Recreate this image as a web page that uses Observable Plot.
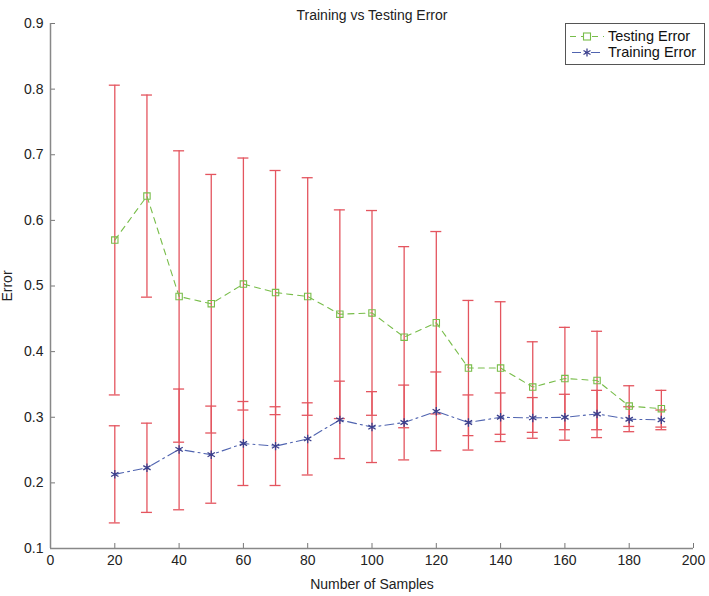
<!DOCTYPE html>
<html><head><meta charset="utf-8">
<script src="https://cdn.jsdelivr.net/npm/d3@7"></script>
<script src="https://cdn.jsdelivr.net/npm/@observablehq/plot@0.6"></script>
<style>
body{margin:0;background:#fff;}
#wrap{position:relative;width:709px;height:596px;font-family:"Liberation Sans",Arial,sans-serif;}
#legend{position:absolute;left:565px;top:23px;width:140px;height:42px;border:1px solid #555;background:#fff;box-sizing:border-box;font-size:14.5px;color:#111;padding-top:4px;}
#legend .row{display:flex;align-items:center;height:16px;line-height:16px;}
#legend svg{width:38px;height:15px;flex:none;margin-left:2px;margin-right:2px;}
</style></head><body><div id="wrap"></div>
<script>
const title = "Training vs Testing Error";
const samples = [20, 30, 40, 50, 60, 70, 80, 90, 100, 110, 120, 130, 140, 150, 160, 170, 180, 190];
const testingError  = [0.570, 0.637, 0.484, 0.473, 0.503, 0.490, 0.484, 0.457, 0.459, 0.422, 0.444, 0.375, 0.375, 0.346, 0.359, 0.356, 0.317, 0.313];
const testingSpread = [0.236, 0.154, 0.222, 0.197, 0.192, 0.186, 0.181, 0.159, 0.156, 0.138, 0.139, 0.103, 0.101, 0.069, 0.078, 0.075, 0.031, 0.028];
const trainingError  = [0.213, 0.223, 0.251, 0.243, 0.260, 0.256, 0.267, 0.296, 0.285, 0.292, 0.309, 0.292, 0.300, 0.299, 0.300, 0.305, 0.297, 0.296];
const trainingSpread = [0.074, 0.068, 0.092, 0.074, 0.064, 0.060, 0.055, 0.059, 0.054, 0.057, 0.060, 0.042, 0.037, 0.031, 0.035, 0.036, 0.019, 0.015];
const seriesNames = ["Testing Error", "Training Error"];
const xTicks = [0, 20, 40, 60, 80, 100, 120, 140, 160, 180, 200];
const yTicks = [0.1, 0.2, 0.3, 0.4, 0.5, 0.6, 0.7, 0.8, 0.9];
const xLabel = "Number of Samples";
const yLabel = "Error";

const red = "#e4555f", green = "#78bd4a", blue = "#5064b0", navy = "#3b3f8c";

const testRows = samples.map((x, i) => ({x, y: testingError[i], lo: testingError[i] - testingSpread[i], hi: testingError[i] + testingSpread[i]}));
const trainRows = samples.map((x, i) => ({x, y: trainingError[i], lo: trainingError[i] - trainingSpread[i], hi: trainingError[i] + trainingSpread[i]}));
const allRows = testRows.concat(trainRows);

const chart = Plot.plot({
  width: 709, height: 596,
  marginLeft: 50, marginRight: 16, marginTop: 23, marginBottom: 48,
  style: {fontFamily: "'Liberation Sans', Arial, sans-serif", fontSize: "14px", color: "#222", background: "#fff"},
  x: {domain: [0, 200]},
  y: {domain: [0.1, 0.9]},
  marks: [
    Plot.ruleX(allRows, {x: "x", y1: "lo", y2: "hi", stroke: red, strokeWidth: 1.3}),
    Plot.ruleY(allRows, {y: "lo", x1: "x", x2: "x", insetLeft: -5.5, insetRight: -5.5, stroke: red, strokeWidth: 1.3}),
    Plot.ruleY(allRows, {y: "hi", x1: "x", x2: "x", insetLeft: -5.5, insetRight: -5.5, stroke: red, strokeWidth: 1.3}),
    Plot.line(testRows, {x: "x", y: "y", stroke: green, strokeWidth: 1.1, strokeDasharray: "6,5"}),
    Plot.line(trainRows, {x: "x", y: "y", stroke: blue, strokeWidth: 1.1, strokeDasharray: "9,4,2,4"}),
    Plot.dot(testRows, {x: "x", y: "y", symbol: "square", r: 3.6, stroke: green, fill: "none", strokeWidth: 1.1}),
    Plot.dot(trainRows, {x: "x", y: "y", symbol: "asterisk", r: 4, stroke: navy, strokeWidth: 1.3}),
    Plot.axisX({ticks: xTicks, tickSize: -5, tickPadding: 12, tickFormat: d => String(d), stroke: "#777",
      label: xLabel, labelAnchor: "center", labelOffset: 40, labelArrow: false}),
    Plot.axisY({ticks: yTicks, tickSize: -5, tickPadding: 12, tickFormat: d3.format(".1f"), stroke: "#777",
      label: yLabel, labelAnchor: "center", labelOffset: 48, labelArrow: false}),
    Plot.ruleX([0], {stroke: "#888", strokeWidth: 1.5}),
    Plot.ruleY([0.1], {stroke: "#888", strokeWidth: 1.5}),
    Plot.text([title], {frameAnchor: "top", dy: -13, fontSize: 14, fill: "#222"})
  ]
});
const wrap = document.getElementById("wrap");
wrap.appendChild(chart);

// legend
const legend = document.createElement("div");
legend.id = "legend";
const swatches = [
  `<line x1="2" y1="7.5" x2="36" y2="7.5" stroke="${green}" stroke-width="1.1" stroke-dasharray="6,5"/><rect x="15.5" y="4" width="7" height="7" fill="#fff" stroke="${green}" stroke-width="1.1"/>`,
  `<line x1="2" y1="7.5" x2="36" y2="7.5" stroke="${blue}" stroke-width="1.1" stroke-dasharray="9,4,2,4" stroke-dashoffset="-2"/><g stroke="${navy}" stroke-width="1.3"><line x1="19" y1="3.5" x2="19" y2="11.5"/><line x1="15.5" y1="5.5" x2="22.5" y2="9.5"/><line x1="15.5" y1="9.5" x2="22.5" y2="5.5"/></g>`
];
seriesNames.forEach((name, i) => {
  const row = document.createElement("div");
  row.className = "row";
  row.innerHTML = `<svg viewBox="0 0 38 15">${swatches[i]}</svg><span>${name}</span>`;
  legend.appendChild(row);
});
wrap.appendChild(legend);
</script></body></html>
